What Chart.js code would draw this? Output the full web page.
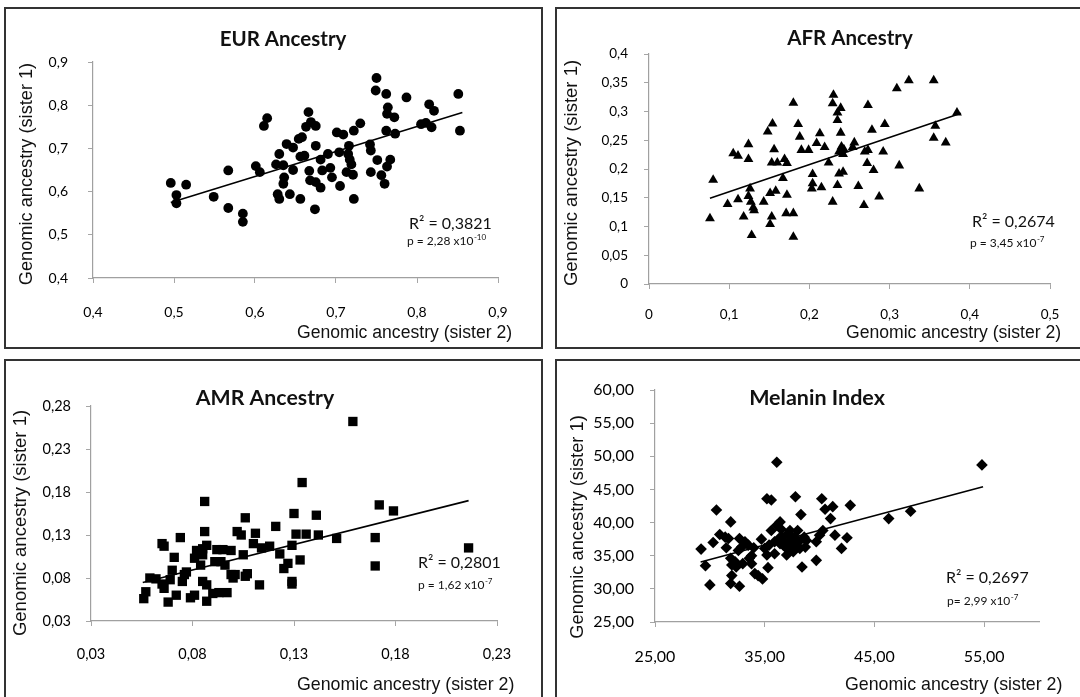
<!DOCTYPE html>
<html>
<head>
<meta charset="utf-8">
<script src="https://cdn.jsdelivr.net/npm/chart.js@4.4.1/dist/chart.umd.min.js"></script>
<style>
  html, body { margin: 0; padding: 0; background: #fff; }
  body { width: 1080px; height: 697px; position: relative; overflow: hidden; }
  .panel { position: absolute; box-sizing: border-box; border: 2px solid #333; background: #fff; }
  .panel canvas { position: absolute; left: 0; top: 0; }
</style>
</head>
<body>
<div class="panel" style="left:4px; top:7px; width:539px; height:342px;"><canvas id="eur" width="535" height="338"></canvas></div>
<div class="panel" style="left:555px; top:7px; width:560px; height:342px;"><canvas id="afr" width="556" height="338"></canvas></div>
<div class="panel" style="left:4px; top:359px; width:539px; height:345px;"><canvas id="amr" width="535" height="341"></canvas></div>
<div class="panel" style="left:555px; top:359px; width:560px; height:345px;"><canvas id="mel" width="556" height="341"></canvas></div>
<script>
// ---- EUR ancestry: sister 2 (x) vs sister 1 (y) ----
const eurX = [0.496,0.503,0.503,0.515,0.549,0.567,0.567,0.585,0.585,0.601,0.606,0.611,0.615,0.630,0.626,0.628,0.630,0.635,0.636,0.635,0.639,0.643,0.647,0.647,0.656,0.654,0.658,0.656,0.661,0.666,0.667,0.668,0.669,0.663,0.675,0.675,0.674,0.675,0.681,0.681,0.683,0.690,0.693,0.695,0.701,0.704,0.705,0.709,0.713,0.715,0.716,0.717,0.719,0.721,0.722,0.722,0.730,0.742,0.743,0.743,0.750,0.749,0.751,0.756,0.760,0.762,0.762,0.764,0.763,0.763,0.767,0.772,0.773,0.787,0.805,0.811,0.815,0.821,0.818,0.851,0.853];
const eurY = [0.620,0.592,0.573,0.616,0.588,0.649,0.562,0.549,0.530,0.659,0.645,0.752,0.770,0.687,0.663,0.594,0.583,0.661,0.633,0.618,0.710,0.594,0.702,0.650,0.583,0.722,0.726,0.681,0.683,0.784,0.648,0.626,0.761,0.750,0.752,0.706,0.559,0.622,0.674,0.609,0.649,0.687,0.655,0.633,0.737,0.691,0.613,0.732,0.645,0.687,0.706,0.674,0.663,0.639,0.741,0.583,0.758,0.709,0.695,0.645,0.863,0.834,0.673,0.638,0.618,0.826,0.741,0.795,0.780,0.658,0.674,0.772,0.734,0.818,0.756,0.759,0.802,0.787,0.749,0.826,0.741];
const eurTrendX = [0.496, 0.856];
const eurTrendY = [0.575, 0.783];
const eurTicks = [0.4, 0.5, 0.6, 0.7, 0.8, 0.9];
const eurTickLabels = ['0,4', '0,5', '0,6', '0,7', '0,8', '0,9'];

// ---- AFR ancestry ----
const afrX = [0.076,0.080,0.098,0.105,0.111,0.111,0.118,0.124,0.124,0.124,0.126,0.127,0.130,0.131,0.128,0.143,0.148,0.151,0.153,0.151,0.154,0.156,0.153,0.158,0.160,0.167,0.169,0.172,0.172,0.171,0.180,0.180,0.180,0.186,0.188,0.190,0.199,0.204,0.204,0.203,0.209,0.213,0.215,0.219,0.224,0.229,0.230,0.229,0.235,0.235,0.239,0.239,0.235,0.237,0.240,0.237,0.242,0.242,0.243,0.256,0.254,0.261,0.268,0.273,0.269,0.272,0.273,0.278,0.280,0.287,0.292,0.294,0.312,0.309,0.324,0.337,0.355,0.355,0.357,0.370,0.384];
const afrY = [0.114,0.181,0.139,0.227,0.223,0.147,0.117,0.243,0.217,0.153,0.166,0.143,0.133,0.128,0.085,0.143,0.265,0.104,0.117,0.158,0.279,0.234,0.211,0.162,0.211,0.184,0.217,0.210,0.155,0.123,0.123,0.082,0.315,0.278,0.256,0.233,0.233,0.191,0.175,0.166,0.245,0.262,0.168,0.238,0.211,0.143,0.329,0.314,0.298,0.285,0.306,0.263,0.172,0.192,0.239,0.230,0.226,0.195,0.234,0.246,0.238,0.170,0.137,0.311,0.230,0.210,0.233,0.268,0.198,0.152,0.230,0.278,0.206,0.340,0.354,0.166,0.354,0.254,0.275,0.246,0.298];
const afrTrendX = [0.076, 0.389];
const afrTrendY = [0.149, 0.297];
const afrXTicks = [0, 0.1, 0.2, 0.3, 0.4, 0.5];
const afrXTickLabels = ['0', '0,1', '0,2', '0,3', '0,4', '0,5'];
const afrYTicks = [0, 0.05, 0.1, 0.15, 0.2, 0.25, 0.3, 0.35, 0.4];
const afrYTickLabels = ['0', '0,05', '0,1', '0,15', '0,2', '0,25', '0,3', '0,35', '0,4'];

// ---- AMR ancestry ----
const amrX = [0.056,0.057,0.059,0.062,0.065,0.066,0.065,0.066,0.068,0.069,0.070,0.071,0.072,0.074,0.075,0.076,0.077,0.079,0.081,0.081,0.082,0.084,0.085,0.085,0.086,0.086,0.085,0.087,0.087,0.087,0.090,0.091,0.092,0.093,0.094,0.095,0.096,0.097,0.099,0.099,0.100,0.101,0.102,0.104,0.105,0.106,0.106,0.107,0.110,0.111,0.113,0.114,0.118,0.121,0.123,0.125,0.127,0.129,0.129,0.129,0.130,0.131,0.133,0.134,0.136,0.141,0.142,0.151,0.159,0.170,0.170,0.172,0.179,0.216];
const amrY = [0.056,0.064,0.080,0.079,0.120,0.117,0.073,0.068,0.052,0.078,0.089,0.104,0.060,0.127,0.076,0.084,0.087,0.057,0.060,0.103,0.112,0.095,0.107,0.114,0.169,0.134,0.076,0.053,0.118,0.072,0.062,0.099,0.113,0.063,0.099,0.113,0.095,0.063,0.112,0.084,0.080,0.084,0.134,0.130,0.107,0.150,0.082,0.085,0.120,0.132,0.072,0.115,0.117,0.140,0.108,0.091,0.097,0.118,0.076,0.073,0.155,0.131,0.101,0.191,0.131,0.153,0.130,0.126,0.262,0.127,0.094,0.165,0.158,0.115];
const amrTrendX = [0.0555, 0.216];
const amrTrendY = [0.0747, 0.170];
const amrXTicks = [0.03, 0.08, 0.13, 0.18, 0.23];
const amrXTickLabels = ['0,03', '0,08', '0,13', '0,18', '0,23'];
const amrYTicks = [0.03, 0.08, 0.13, 0.18, 0.23, 0.28];
const amrYTickLabels = ['0,03', '0,08', '0,13', '0,18', '0,23', '0,28'];

// ---- Melanin index ----
const melX = [29.2,29.6,30.0,30.3,30.6,30.9,31.4,31.7,31.5,31.9,31.9,32.0,32.0,31.9,32.3,32.4,32.7,32.7,32.9,33.0,33.2,33.5,33.6,33.8,34.0,34.1,34.4,34.7,34.8,35.0,35.2,35.3,35.2,35.6,35.6,35.9,35.9,36.1,36.1,36.4,36.4,36.5,36.7,37.0,37.1,37.3,37.4,37.6,37.7,37.8,38.0,38.1,38.2,38.3,38.4,38.7,38.8,39.7,39.7,40.0,40.3,40.2,40.5,41.0,41.2,41.4,42.0,42.5,42.8,46.3,48.3,54.8,36.3,36.8,37.6,37.0,38.6,36.5,35.4,37.3,33.8,32.6];
const melY = [36.0,33.5,30.6,37.0,41.9,38.2,37.8,37.6,36.2,40.1,34.6,33.6,32.0,30.8,34.1,33.3,37.6,30.4,36.3,33.8,37.1,36.6,34.6,33.8,36.2,32.3,32.0,37.5,31.5,36.1,35.1,33.2,43.6,43.4,38.8,37.1,35.3,49.1,39.6,40.1,36.8,37.8,36.6,35.1,38.3,37.3,36.1,36.6,37.8,43.9,38.8,37.1,36.1,41.2,33.3,36.3,37.3,34.3,37.1,38.1,38.8,43.6,42.0,40.6,42.4,38.1,36.1,37.7,42.6,40.6,41.7,48.7,37.6,37.1,35.6,36.1,37.8,39.0,36.6,38.8,35.0,35.8];
const melTrendX = [29.16, 54.9];
const melTrendY = [34.06, 45.39];
const melXTicks = [25, 35, 45, 55];
const melXTickLabels = ['25,00', '35,00', '45,00', '55,00'];
const melYTicks = [25, 30, 35, 40, 45, 50, 55, 60];
const melYTickLabels = ['25,00', '30,00', '35,00', '40,00', '45,00', '50,00', '55,00', '60,00'];

// ---- Text shown in every panel ----
const panelTitles = ['EUR Ancestry', 'AFR Ancestry', 'AMR Ancestry', 'Melanin Index'];
const r2Labels = ['R\u00B2 = 0,3821', 'R\u00B2 = 0,2674', 'R\u00B2 = 0,2801', 'R\u00B2 = 0,2697'];
const pLabels = ['p = 2,28 x10', 'p = 3,45 x10', 'p = 1,62 x10', 'p= 2,99 x10'];
const pExponents = ['-10', '-7', '-7', '-7'];
const yAxisTitle = 'Genomic ancestry (sister 1)';
const xAxisTitle = 'Genomic ancestry (sister 2)';

const zip = (xs, ys) => xs.map((x, i) => ({ x: x, y: ys[i] }));

// Draws panel title, axis titles and the R²/p annotation.
const panelText = {
  id: 'panelText',
  afterDraw(chart, args, o) {
    const ctx = chart.ctx;
    ctx.save();
    ctx.fillStyle = '#111';
    ctx.textBaseline = 'middle';
    ctx.textAlign = 'center';
    ctx.font = 'bold ' + o.titleSize + 'px Lato';
    ctx.fillText(o.title, o.titleX, o.titleY);

    ctx.save();
    ctx.translate(o.yTitleX, o.yTitleY);
    ctx.rotate(-Math.PI / 2);
    ctx.font = o.yTitleSize + 'px "Liberation Sans"';
    ctx.fillText(yAxisTitle, 0, 0);
    ctx.restore();

    ctx.textAlign = 'left';
    ctx.font = o.xTitleSize + 'px "Liberation Sans"';
    ctx.fillText(xAxisTitle, o.xTitleX, o.xTitleY);

    ctx.font = o.r2Size + 'px Lato';
    ctx.fillText(o.r2, o.r2X, o.r2Y);
    ctx.font = o.pSize + 'px Lato';
    ctx.fillText(o.p, o.pX, o.pY);
    const w = ctx.measureText(o.p).width;
    ctx.font = Math.round(o.pSize * 0.68) + 'px Lato';
    ctx.fillText(o.pExp, o.pX + w + 0.5, o.pY - o.pSize * 0.33);
    ctx.restore();
  }
};

function axis(min, max, ticks, labels, fixedSize, horizontal, fontSize, pad) {
  return {
    type: 'linear',
    min: min,
    max: max,
    afterBuildTicks(scale) { scale.ticks = ticks.map(v => ({ value: v })); },
    afterFit(scale) { if (horizontal) scale.height = fixedSize; else scale.width = fixedSize; },
    ticks: {
      autoSkip: false,
      maxRotation: 0,
      padding: pad,
      color: '#000',
      font: { family: 'Lato', size: fontSize },
      callback: (v, i) => labels[i]
    },
    grid: { drawOnChartArea: false, drawTicks: true, tickLength: 5, color: '#a6a6a6', lineWidth: 1 },
    border: { display: true, color: '#a0a0a0', width: 1.2 }
  };
}

function makePanel(id, pts, trend, style, radius, pad, xAx, yAx, text) {
  return new Chart(document.getElementById(id), {
    type: 'scatter',
    data: {
      datasets: [
        { data: pts, pointStyle: style, pointRadius: radius, pointBackgroundColor: '#000', pointBorderColor: '#000', pointBorderWidth: 0, showLine: false },
        { data: trend, showLine: true, borderColor: '#000', borderWidth: 1.6, pointRadius: 0, fill: false }
      ]
    },
    options: {
      responsive: false,
      animation: false,
      layout: { padding: pad },
      scales: { x: xAx, y: yAx },
      plugins: { legend: { display: false }, tooltip: { enabled: false }, panelText: text }
    },
    plugins: [panelText]
  });
}

makePanel('eur', zip(eurX, eurY), zip(eurTrendX, eurTrendY), 'circle', 4.9,
  { left: 0, top: 53, right: 43, bottom: 0 },
  axis(0.4, 0.9, eurTicks, eurTickLabels, 69, true, 14, 21),
  axis(0.4, 0.9, eurTicks, eurTickLabels, 87, false, 14, 20),
  { title: panelTitles[0], titleSize: 20.5, titleX: 277, titleY: 30,
    yTitleX: 21, yTitleY: 165, yTitleSize: 18.2, xTitleX: 291, xTitleY: 324, xTitleSize: 17.6,
    r2: r2Labels[0], r2Size: 16, r2X: 403, r2Y: 215,
    p: pLabels[0], pExp: pExponents[0], pSize: 12, pX: 401, pY: 232 });

makePanel('afr', zip(afrX, afrY), zip(afrTrendX, afrTrendY), 'triangle', 5.7,
  { left: 0, top: 45, right: 63, bottom: 0 },
  axis(0, 0.5, afrXTicks, afrXTickLabels, 63, true, 13.5, 18),
  axis(0, 0.4, afrYTicks, afrYTickLabels, 92, false, 13.5, 16),
  { title: panelTitles[1], titleSize: 20.5, titleX: 293, titleY: 29,
    yTitleX: 15, yTitleY: 164, yTitleSize: 18.5, xTitleX: 289, xTitleY: 324, xTitleSize: 17.6,
    r2: r2Labels[1], r2Size: 16, r2X: 415, r2Y: 213,
    p: pLabels[1], pExp: pExponents[1], pSize: 12, pX: 413, pY: 234 });

makePanel('amr', zip(amrX, amrY), zip(amrTrendX, amrTrendY), 'rect', 6.6,
  { left: 0, top: 45, right: 44, bottom: 0 },
  axis(0.03, 0.23, amrXTicks, amrXTickLabels, 81, true, 14.5, 20),
  axis(0.03, 0.28, amrYTicks, amrYTickLabels, 85, false, 14.5, 15),
  { title: panelTitles[2], titleSize: 21.3, titleX: 259, titleY: 37,
    yTitleX: 15, yTitleY: 162, yTitleSize: 18.5, xTitleX: 291, xTitleY: 324, xTitleSize: 17.8,
    r2: r2Labels[2], r2Size: 16, r2X: 412, r2Y: 202,
    p: pLabels[2], pExp: pExponents[2], pSize: 12, pX: 412, pY: 224 });

makePanel('mel', zip(melX, melY), zip(melTrendX, melTrendY), 'rectRot', 5.8,
  { left: 0, top: 29, right: 74, bottom: 0 },
  axis(25, 60, melXTicks, melXTickLabels, 80, true, 16, 20),
  axis(25, 60, melYTicks, melYTickLabels, 98, false, 16, 16),
  { title: panelTitles[3], titleSize: 21.5, titleX: 260, titleY: 37,
    yTitleX: 21, yTitleY: 166, yTitleSize: 18.3, xTitleX: 288, xTitleY: 324, xTitleSize: 17.8,
    r2: r2Labels[3], r2Size: 16, r2X: 389, r2Y: 217,
    p: pLabels[3], pExp: pExponents[3], pSize: 12, pX: 390, pY: 240 });
</script>
</body>
</html>
